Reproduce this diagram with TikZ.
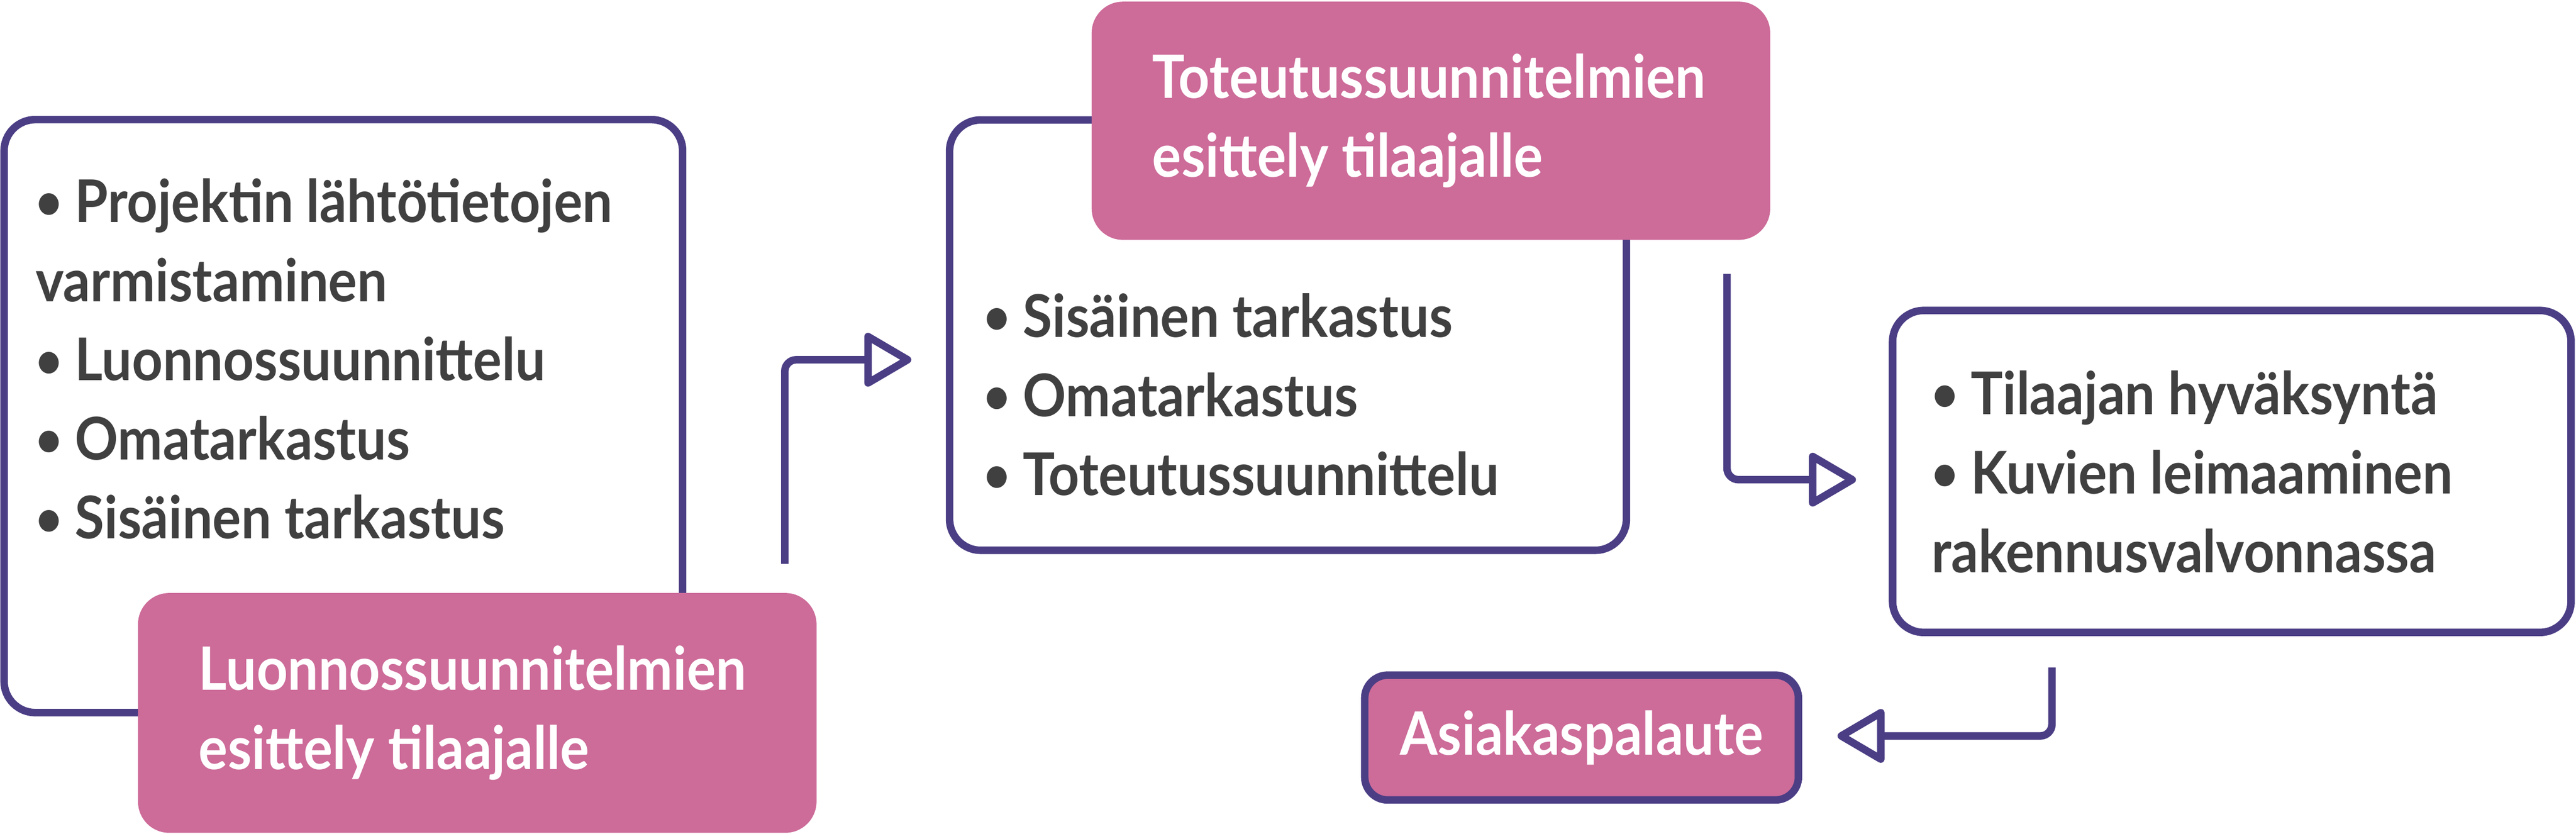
\documentclass[tikz,border=0pt]{standalone}
\usepackage{fontspec}
\newfontfamily\flowfont{Lato}[FakeStretch=0.91]
\usetikzlibrary{arrows.meta,calc}
\definecolor{lilac}{RGB}{76,62,133}
\definecolor{rose}{RGB}{205,107,153}
\definecolor{ink}{RGB}{64,64,64}
\newcommand\listdot{\raisebox{0.1ex}{\scalebox{0.85}{•}}}
\tikzset{
	phasebox/.style={draw=lilac, line width=1.3pt, rounded corners=1.9mm, fill=white, inner sep=0pt},
	titlebox/.style={fill=rose, rounded corners=1.9mm, text=white, align=flush left, inner xsep=3.7mm, inner ysep=0pt, font=\flowfont\bfseries\fontsize{10.35}{13.7}\selectfont},
	tasklist/.style={text=ink, align=left, inner sep=0pt, anchor=base west, font=\flowfont\bfseries\fontsize{10.2}{13.7}\selectfont},
	flowarrow/.style={draw=lilac, line width=1.3pt, rounded corners=0.7mm, -{Triangle[open, length=3.1mm, width=3.5mm, round]}},
}
\begin{document}
\begin{tikzpicture}[x=0.1mm,y=-0.1mm]
		\useasboundingbox (0,0) rectangle (1568,507.6);
		\node[phasebox, minimum width=41.3mm, minimum height=36.1mm] (luonnos) at (209,253.3) {};
		\node[phasebox, minimum width=41.2mm, minimum height=26.2mm] (toteutus) at (784,204) {};
		\node[phasebox, minimum width=41.3mm, minimum height=19.6mm] (hyvaksynta) at (1358.5,287) {};
		\node[tasklist] (luonnos-list) at (21,328) {\listdot{} Projektin lähtötietojen\\varmistaminen\\\listdot{} Luonnossuunnittelu\\\listdot{} Omatarkastus\\\listdot{} Sisäinen tarkastus};
		\node[tasklist] (toteutus-list) at (598,301.6) {\listdot{} Sisäinen tarkastus\\\listdot{} Omatarkastus\\\listdot{} Toteutussuunnittelu};
		\node[tasklist] (hyvaksynta-list) at (1175,348.6) {\listdot{} Tilaajan hyväksyntä\\\listdot{} Kuvien leimaaminen\\rakennusvalvonnassa};
		\node[titlebox, text width=33.9mm, minimum height=14.6mm] (luonnos-esittely) at (290.5,434) {Luonnossuunnitelmien\\esittely tilaajalle};
		\node[titlebox, text width=33.9mm, minimum height=14.5mm] (toteutus-esittely) at (871,73.5) {Toteutussuunnitelmien\\esittely tilaajalle};
		\node[titlebox, draw=lilac, line width=1.3pt, rounded corners=1.4mm, minimum width=26.4mm, minimum height=7.6mm, inner xsep=0pt, align=center] (palaute) at (962.7,449) {Asiakaspalaute};
		\coordinate (a1) at ($(luonnos-esittely.north east)+(-20,-17)$);
		\coordinate (b1) at ($(toteutus.west)+(-21,15)$);
		\draw[flowarrow] (a1) |- (b1);
		\coordinate (a2) at ($(toteutus-esittely.south east)+(-27,20)$);
		\coordinate (b2) at ($(hyvaksynta.west)+(-20,5)$);
		\draw[flowarrow] (a2) |- (b2);
		\coordinate (a3) at ($(hyvaksynta.south)+(-109.5,19)$);
		\coordinate (b3) at ($(palaute.east)+(21.5,-1)$);
		\draw[flowarrow] (a3) |- (b3);
\end{tikzpicture}
\end{document}
